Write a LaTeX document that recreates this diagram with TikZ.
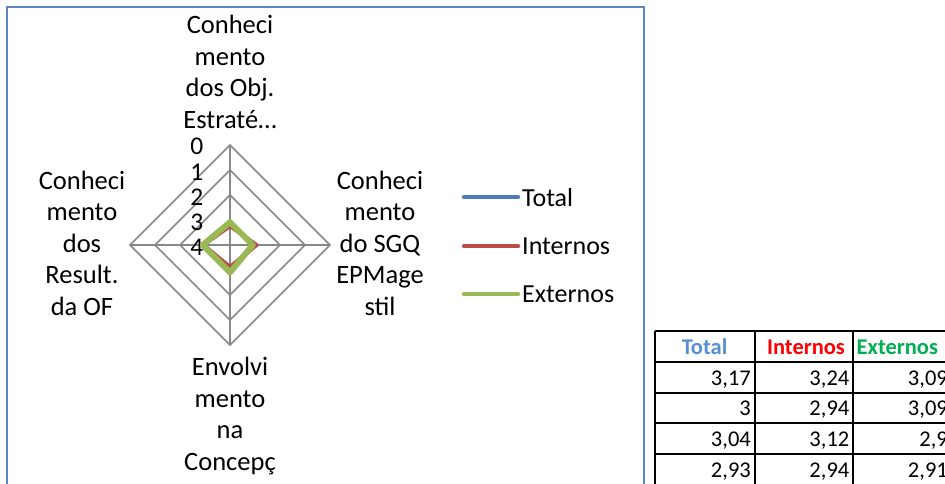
\documentclass[tikz,border=0pt]{standalone}
\usepackage{fontspec}
\setmainfont{Carlito}
\definecolor{framec}{HTML}{5B87C1}
\definecolor{gridc}{HTML}{888888}
\definecolor{totc}{HTML}{4A7EBB}
\definecolor{intc}{HTML}{BE4B48}
\definecolor{extc}{HTML}{98B954}
\definecolor{hTot}{HTML}{558ED5}
\definecolor{hInt}{HTML}{FF0000}
\definecolor{hExt}{HTML}{00B050}
\tikzset{
  lbl/.style={font=\fontsize{26.5}{31.5}\selectfont, align=center, inner sep=0pt, anchor=base},
  tick/.style={font=\fontsize{25.5}{31.5}\selectfont, inner sep=0pt, anchor=base east},
  gridline/.style={draw=gridc, line width=1.5pt},
  series/.style={line width=#1, line join=round, line cap=round},
  legline/.style={line width=4.5pt, line cap=round},
  legtext/.style={font=\fontsize{26}{31.5}\selectfont, inner sep=0pt, anchor=base west},
  tline/.style={line width=2pt, draw=black},
  thead/.style={font=\fontsize{22.5}{26}\selectfont\bfseries, inner sep=0pt, anchor=base},
  tcell/.style={font=\fontsize{22.5}{26}\selectfont, inner sep=0pt, anchor=base east}
}
\begin{document}
\begin{tikzpicture}[x=1pt,y=-1pt]
\useasboundingbox (0,0) rectangle (945,484);
\clip (0,0) rectangle (945,484);
% chart frame
\draw[framec, line width=2pt] (6.5,7.5) rectangle (643.5,484.5);
% radar grid
\coordinate (C) at (230,245);
\foreach \r in {25,50,75,100}{
  \draw[gridline] (230,245-\r) -- (230+\r,245) -- (230,245+\r) -- (230-\r,245) -- cycle;
}
\coordinate (VT) at (230,145);
\coordinate (VR) at (330,245);
\coordinate (VB) at (230,345);
\coordinate (VL) at (130,245);
\draw[gridline] (C) -- (VT) (C) -- (VR) (C) -- (VB) (C) -- (VL);
% tick labels
\foreach \v [count=\i from 0] in {0,1,2,3,4}{
  \node[tick] (tk\i) at (203.5,155+25*\i) {\v};
}
% series: distance = (4 - value)*25
\draw[series=4pt, totc] (230,245-20.75) -- (230+25,245) -- (230,245+24) -- (230-26.75,245) -- cycle;
\draw[series=4pt, intc] (230,245-19) -- (230+26.5,245) -- (230,245+22) -- (230-26.5,245) -- cycle;
\draw[series=6pt, extc] (230,245-22.75) -- (230+22.75,245) -- (230,245+27.5) -- (230-27.25,245) -- cycle;
% axis labels (base anchor = baseline of last line)
\node[lbl] (lt) at (230,128.3) {Conheci\\mento\\dos Obj.\\Estraté…};
\node[lbl] (ll) at (82,315) {Conheci\\mento\\dos\\Result.\\da OF};
\node[lbl] (lr) at (380,315) {Conheci\\mento\\do SGQ\\EPMage\\stil};
\node[lbl] (lb) at (230,470) {Envolvi\\mento\\na\\Concepç};
% legend
\coordinate (g1a) at (464,197); \coordinate (g1b) at (518,197);
\coordinate (g2a) at (464,246); \coordinate (g2b) at (518,246);
\coordinate (g3a) at (464,294); \coordinate (g3b) at (518,294);
\draw[legline, totc] (g1a) -- (g1b);
\draw[legline, intc] (g2a) -- (g2b);
\draw[legline, extc] (g3a) -- (g3b);
\node[legtext] (gt1) at (522,206) {Total};
\node[legtext] (gt2) at (522,254) {Internos};
\node[legtext] (gt3) at (522,302) {Externos};
% table
\foreach \yy in {330.7,361.7,392.7,423.3,454.3,485}{
  \draw[tline] (654.5,\yy) -- (960,\yy);
}
\foreach \xx in {654.5,755,853.3,952}{
  \draw[tline] (\xx,330.7) -- (\xx,486);
}
\node[thead, text=hTot] (h1) at (704.5,354.5) {Total};
\node[thead, text=hInt] (h2) at (806,354.5) {Internos};
\node[thead, text=hExt, anchor=base west] (h3) at (856.5,354.5) {Externos};
\node[tcell] (a1) at (751,385) {3,17};
\node[tcell] (b1) at (849.5,385) {3,24};
\node[tcell] (c1) at (948,385) {3,09};
\node[tcell] (a2) at (751,415.7) {3};
\node[tcell] (b2) at (849.5,415.7) {2,94};
\node[tcell] (c2) at (948,415.7) {3,09};
\node[tcell] (a3) at (751,446.5) {3,04};
\node[tcell] (b3) at (849.5,446.5) {3,12};
\node[tcell] (c3) at (948,446.5) {2,9};
\node[tcell] (a4) at (751,477.3) {2,93};
\node[tcell] (b4) at (849.5,477.3) {2,94};
\node[tcell] (c4) at (948,477.3) {2,91};
\end{tikzpicture}
\end{document}
